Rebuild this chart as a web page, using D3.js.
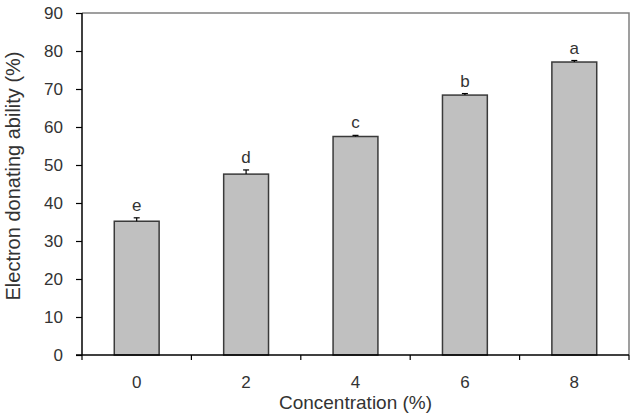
<!DOCTYPE html>
<html><head><meta charset="utf-8">
<script src="https://cdn.jsdelivr.net/npm/d3@7"></script>
<style>body{margin:0;background:#fff}svg{display:block}</style>
</head><body>
<svg id="c" width="637" height="414"></svg>
<script>
const categories = ["0","2","4","6","8"];
const values = [35.2, 47.6, 57.5, 68.4, 77.1];
const errors = [0.9, 1.1, 0.3, 0.4, 0.4];
const letters = ["e","d","c","b","a"];
const yTicks = [0,10,20,30,40,50,60,70,80,90];

const svg = d3.select("#c");
const L = 82, R = 629, T = 13, B = 355;
const font = "Liberation Sans, Arial, sans-serif";
const x = d3.scaleBand().domain(categories).range([L, R]).paddingInner(0.59).paddingOuter(0.295);
const y = d3.scaleLinear().domain([0, 90]).range([B, T]);

// top and right frame
svg.append("path").attr("d", `M${L},${T}H${R}V${B}`).attr("fill","none").attr("stroke","#808080").attr("stroke-width",1.5);

// bars
svg.selectAll("rect.bar").data(values).enter().append("rect")
  .attr("x",(d,i)=>x(categories[i])).attr("width",x.bandwidth())
  .attr("y",d=>y(d)).attr("height",d=>B-y(d))
  .attr("fill","#c0c0c0").attr("stroke","#3a3a3a").attr("stroke-width",1.5);

// error bars
const eb = svg.append("g").attr("stroke","#000").attr("stroke-width",1.2);
values.forEach((v,i)=>{
  const cx = x(categories[i]) + x.bandwidth()/2;
  eb.append("line").attr("x1",cx).attr("x2",cx).attr("y1",y(v)).attr("y2",y(v+errors[i]));
  eb.append("line").attr("x1",cx-3).attr("x2",cx+3).attr("y1",y(v+errors[i])).attr("y2",y(v+errors[i]));
});

// letters
svg.selectAll("text.let").data(letters).enter().append("text")
  .attr("x",(d,i)=>x(categories[i]) + x.bandwidth()/2)
  .attr("y",(d,i)=>y(values[i]+errors[i]) - 7)
  .attr("text-anchor","middle").attr("font-family",font).attr("font-size",17).attr("fill","#333")
  .text(d=>d);

// y axis
const ya = svg.append("g").attr("transform",`translate(${L},0)`)
  .call(d3.axisLeft(y).tickValues(yTicks).tickSize(6).tickPadding(13));
ya.select(".domain").attr("stroke","#000").attr("stroke-width",1.5).attr("d",`M0,${B}V${T}`);
ya.selectAll(".tick line").attr("stroke","#000").attr("stroke-width",1.2);
ya.selectAll("text").attr("font-family",font).attr("font-size",17).attr("fill","#333");

// x axis
const xb = d3.scaleLinear().domain([0,5]).range([L,R]);
const xa = svg.append("g").attr("transform",`translate(0,${B})`);
xa.append("line").attr("x1",L-6).attr("x2",R).attr("y1",0).attr("y2",0).attr("stroke","#000").attr("stroke-width",1.5);
xa.selectAll("line.t").data(d3.range(0,6)).enter().append("line")
  .attr("x1",d=>xb(d)).attr("x2",d=>xb(d)).attr("y1",0).attr("y2",5)
  .attr("stroke","#000").attr("stroke-width",1.2);
xa.selectAll("text").data(categories).enter().append("text")
  .attr("x",d=>x(d)+x.bandwidth()/2).attr("y",33)
  .attr("text-anchor","middle").attr("font-family",font).attr("font-size",17).attr("fill","#333")
  .text(d=>d);

// axis titles
svg.append("text").attr("x",(L+R)/2).attr("y",409).attr("text-anchor","middle")
  .attr("font-family",font).attr("font-size",19).attr("fill","#333").text("Concentration (%)");
svg.append("text").attr("transform",`translate(20,176) rotate(-90)`).attr("text-anchor","middle")
  .attr("font-family",font).attr("font-size",20).attr("fill","#333").text("Electron donating ability (%)");
</script>
</body></html>
